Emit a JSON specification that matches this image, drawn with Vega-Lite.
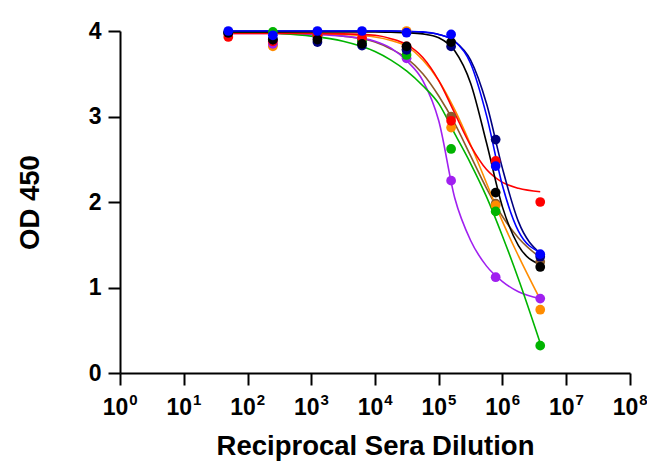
{
  "$schema": "https://vega.github.io/schema/vega-lite/v6.json",
  "width": 510,
  "height": 342,
  "autosize": {"type": "none"},
  "padding": {"left": 120, "top": 31, "right": 17, "bottom": 94},
  "background": "white",
  "config": {
    "view": {"stroke": null},
    "axis": {
      "grid": false,
      "domainColor": "black",
      "domainWidth": 2,
      "tickColor": "black",
      "tickWidth": 2,
      "tickSize": 12,
      "labelFont": "Liberation Sans",
      "labelFontWeight": "bold",
      "labelFontSize": 23,
      "labelColor": "black",
      "titleFont": "Liberation Sans",
      "titleFontWeight": "bold",
      "titleFontSize": 27.5,
      "titleColor": "black"
    }
  },
  "datasets": {
    "points": [
      {"s": "brown", "dil": 50, "od": 3.97}, {"s": "brown", "dil": 250, "od": 3.84}, {"s": "brown", "dil": 1250, "od": 3.94}, {"s": "brown", "dil": 6250, "od": 3.9}, {"s": "brown", "dil": 31250, "od": 3.78}, {"s": "brown", "dil": 156250, "od": 3.0}, {"s": "brown", "dil": 781250, "od": 1.98}, {"s": "brown", "dil": 3906250, "od": 1.3},
      {"s": "orange", "dil": 50, "od": 3.97}, {"s": "orange", "dil": 250, "od": 3.82}, {"s": "orange", "dil": 1250, "od": 3.95}, {"s": "orange", "dil": 6250, "od": 3.9}, {"s": "orange", "dil": 31250, "od": 4.0}, {"s": "orange", "dil": 156250, "od": 2.87}, {"s": "orange", "dil": 781250, "od": 1.96}, {"s": "orange", "dil": 3906250, "od": 0.74},
      {"s": "purple", "dil": 50, "od": 3.97}, {"s": "purple", "dil": 250, "od": 3.85}, {"s": "purple", "dil": 1250, "od": 3.93}, {"s": "purple", "dil": 6250, "od": 3.9}, {"s": "purple", "dil": 31250, "od": 3.68}, {"s": "purple", "dil": 156250, "od": 2.25}, {"s": "purple", "dil": 781250, "od": 1.12}, {"s": "purple", "dil": 3906250, "od": 0.87},
      {"s": "green", "dil": 50, "od": 3.98}, {"s": "green", "dil": 250, "od": 3.99}, {"s": "green", "dil": 1250, "od": 3.95}, {"s": "green", "dil": 6250, "od": 3.88}, {"s": "green", "dil": 31250, "od": 3.72}, {"s": "green", "dil": 156250, "od": 2.62}, {"s": "green", "dil": 781250, "od": 1.89}, {"s": "green", "dil": 3906250, "od": 0.32},
      {"s": "red", "dil": 50, "od": 3.93}, {"s": "red", "dil": 250, "od": 3.88}, {"s": "red", "dil": 1250, "od": 3.95}, {"s": "red", "dil": 6250, "od": 3.92}, {"s": "red", "dil": 31250, "od": 3.82}, {"s": "red", "dil": 156250, "od": 2.95}, {"s": "red", "dil": 781250, "od": 2.48}, {"s": "red", "dil": 3906250, "od": 2.0},
      {"s": "navy", "dil": 50, "od": 3.98}, {"s": "navy", "dil": 250, "od": 3.9}, {"s": "navy", "dil": 1250, "od": 3.87}, {"s": "navy", "dil": 6250, "od": 3.83}, {"s": "navy", "dil": 31250, "od": 3.78}, {"s": "navy", "dil": 156250, "od": 3.82}, {"s": "navy", "dil": 781250, "od": 2.73}, {"s": "navy", "dil": 3906250, "od": 1.36},
      {"s": "black", "dil": 50, "od": 3.98}, {"s": "black", "dil": 250, "od": 3.9}, {"s": "black", "dil": 1250, "od": 3.9}, {"s": "black", "dil": 6250, "od": 3.85}, {"s": "black", "dil": 31250, "od": 3.82}, {"s": "black", "dil": 156250, "od": 3.87}, {"s": "black", "dil": 781250, "od": 2.11}, {"s": "black", "dil": 3906250, "od": 1.24},
      {"s": "blue", "dil": 50, "od": 4.0}, {"s": "blue", "dil": 250, "od": 3.95}, {"s": "blue", "dil": 1250, "od": 4.0}, {"s": "blue", "dil": 6250, "od": 4.0}, {"s": "blue", "dil": 31250, "od": 3.98}, {"s": "blue", "dil": 156250, "od": 3.96}, {"s": "blue", "dil": 781250, "od": 2.42}, {"s": "blue", "dil": 3906250, "od": 1.39}
    ],
    "curves": [
      {"s": "brown", "dil": 50, "od": 3.98}, {"s": "brown", "dil": 316, "od": 3.975}, {"s": "brown", "dil": 1000, "od": 3.97}, {"s": "brown", "dil": 3162, "od": 3.94}, {"s": "brown", "dil": 10000, "od": 3.87}, {"s": "brown", "dil": 17783, "od": 3.79}, {"s": "brown", "dil": 31623, "od": 3.68}, {"s": "brown", "dil": 56234, "od": 3.5}, {"s": "brown", "dil": 100000, "od": 3.24}, {"s": "brown", "dil": 177828, "od": 2.92}, {"s": "brown", "dil": 316228, "od": 2.54}, {"s": "brown", "dil": 562341, "od": 2.16}, {"s": "brown", "dil": 1000000, "od": 1.83}, {"s": "brown", "dil": 1778279, "od": 1.58}, {"s": "brown", "dil": 3906250, "od": 1.35},
      {"s": "orange", "dil": 50, "od": 3.98}, {"s": "orange", "dil": 316, "od": 3.98}, {"s": "orange", "dil": 1000, "od": 3.97}, {"s": "orange", "dil": 3162, "od": 3.96}, {"s": "orange", "dil": 10000, "od": 3.93}, {"s": "orange", "dil": 17783, "od": 3.89}, {"s": "orange", "dil": 31623, "od": 3.82}, {"s": "orange", "dil": 56234, "od": 3.66}, {"s": "orange", "dil": 100000, "od": 3.42}, {"s": "orange", "dil": 177828, "od": 3.08}, {"s": "orange", "dil": 316228, "od": 2.67}, {"s": "orange", "dil": 562341, "od": 2.22}, {"s": "orange", "dil": 1000000, "od": 1.77}, {"s": "orange", "dil": 1778279, "od": 1.37}, {"s": "orange", "dil": 3906250, "od": 0.86},
      {"s": "purple", "dil": 50, "od": 3.97}, {"s": "purple", "dil": 316, "od": 3.97}, {"s": "purple", "dil": 1000, "od": 3.96}, {"s": "purple", "dil": 3162, "od": 3.94}, {"s": "purple", "dil": 10000, "od": 3.88}, {"s": "purple", "dil": 17783, "od": 3.8}, {"s": "purple", "dil": 31623, "od": 3.65}, {"s": "purple", "dil": 56234, "od": 3.42}, {"s": "purple", "dil": 100000, "od": 2.95}, {"s": "purple", "dil": 177828, "od": 2.05}, {"s": "purple", "dil": 316228, "od": 1.55}, {"s": "purple", "dil": 562341, "od": 1.25}, {"s": "purple", "dil": 1000000, "od": 1.07}, {"s": "purple", "dil": 1778279, "od": 0.95}, {"s": "purple", "dil": 3906250, "od": 0.87},
      {"s": "green", "dil": 50, "od": 3.99}, {"s": "green", "dil": 316, "od": 3.97}, {"s": "green", "dil": 1000, "od": 3.94}, {"s": "green", "dil": 3162, "od": 3.88}, {"s": "green", "dil": 10000, "od": 3.76}, {"s": "green", "dil": 17783, "od": 3.66}, {"s": "green", "dil": 31623, "od": 3.53}, {"s": "green", "dil": 56234, "od": 3.36}, {"s": "green", "dil": 100000, "od": 3.15}, {"s": "green", "dil": 177828, "od": 2.8}, {"s": "green", "dil": 316228, "od": 2.45}, {"s": "green", "dil": 562341, "od": 2.06}, {"s": "green", "dil": 1000000, "od": 1.6}, {"s": "green", "dil": 1778279, "od": 1.1}, {"s": "green", "dil": 3906250, "od": 0.35},
      {"s": "red", "dil": 50, "od": 3.97}, {"s": "red", "dil": 316, "od": 3.97}, {"s": "red", "dil": 1000, "od": 3.97}, {"s": "red", "dil": 3162, "od": 3.966}, {"s": "red", "dil": 10000, "od": 3.95}, {"s": "red", "dil": 17783, "od": 3.91}, {"s": "red", "dil": 31623, "od": 3.84}, {"s": "red", "dil": 56234, "od": 3.69}, {"s": "red", "dil": 100000, "od": 3.42}, {"s": "red", "dil": 177828, "od": 3.04}, {"s": "red", "dil": 316228, "od": 2.66}, {"s": "red", "dil": 562341, "od": 2.38}, {"s": "red", "dil": 1000000, "od": 2.23}, {"s": "red", "dil": 1778279, "od": 2.16}, {"s": "red", "dil": 3906250, "od": 2.12},
      {"s": "navy", "dil": 50, "od": 4.0}, {"s": "navy", "dil": 316, "od": 4.0}, {"s": "navy", "dil": 1000, "od": 4.0}, {"s": "navy", "dil": 3162, "od": 4.0}, {"s": "navy", "dil": 10000, "od": 4.0}, {"s": "navy", "dil": 17783, "od": 4.0}, {"s": "navy", "dil": 31623, "od": 3.995}, {"s": "navy", "dil": 56234, "od": 3.985}, {"s": "navy", "dil": 100000, "od": 3.96}, {"s": "navy", "dil": 177828, "od": 3.88}, {"s": "navy", "dil": 316228, "od": 3.66}, {"s": "navy", "dil": 562341, "od": 3.15}, {"s": "navy", "dil": 1000000, "od": 2.39}, {"s": "navy", "dil": 1778279, "od": 1.77}, {"s": "navy", "dil": 3906250, "od": 1.4},
      {"s": "black", "dil": 50, "od": 3.99}, {"s": "black", "dil": 316, "od": 3.99}, {"s": "black", "dil": 1000, "od": 3.99}, {"s": "black", "dil": 3162, "od": 3.99}, {"s": "black", "dil": 10000, "od": 3.99}, {"s": "black", "dil": 17783, "od": 3.985}, {"s": "black", "dil": 31623, "od": 3.98}, {"s": "black", "dil": 56234, "od": 3.966}, {"s": "black", "dil": 100000, "od": 3.92}, {"s": "black", "dil": 177828, "od": 3.77}, {"s": "black", "dil": 316228, "od": 3.39}, {"s": "black", "dil": 562341, "od": 2.69}, {"s": "black", "dil": 1000000, "od": 1.94}, {"s": "black", "dil": 1778279, "od": 1.49}, {"s": "black", "dil": 3906250, "od": 1.27},
      {"s": "blue", "dil": 50, "od": 4.0}, {"s": "blue", "dil": 316, "od": 4.0}, {"s": "blue", "dil": 1000, "od": 4.0}, {"s": "blue", "dil": 3162, "od": 4.0}, {"s": "blue", "dil": 10000, "od": 4.0}, {"s": "blue", "dil": 17783, "od": 4.0}, {"s": "blue", "dil": 31623, "od": 3.995}, {"s": "blue", "dil": 56234, "od": 3.99}, {"s": "blue", "dil": 100000, "od": 3.96}, {"s": "blue", "dil": 177828, "od": 3.88}, {"s": "blue", "dil": 316228, "od": 3.62}, {"s": "blue", "dil": 562341, "od": 3.01}, {"s": "blue", "dil": 1000000, "od": 2.19}, {"s": "blue", "dil": 1778279, "od": 1.66}, {"s": "blue", "dil": 3906250, "od": 1.41}
    ]
  },
  "encoding": {
    "y": {
      "field": "od",
      "type": "quantitative",
      "scale": {"domain": [0, 4], "nice": false},
      "axis": {
        "title": "OD 450",
        "values": [0, 1, 2, 3, 4],
        "labelPadding": 7,
        "titlePadding": 44
      }
    },
    "color": {
      "field": "s",
      "type": "nominal",
      "legend": null,
      "scale": {
        "domain": ["brown", "orange", "purple", "green", "red", "navy", "black", "blue"],
        "range": ["#8b5a2b", "#ff8c00", "#a020f0", "#00b400", "#ff0000", "#000080", "#000000", "#0000ff"]
      }
    }
  },
  "resolve": {"axis": {"x": "independent"}},
  "layer": [
    {
      "data": {"name": "curves"},
      "mark": {"type": "line", "strokeWidth": 1.6, "interpolate": "monotone", "clip": false},
      "encoding": {
        "x": {
          "field": "dil",
          "type": "quantitative",
          "scale": {"type": "log", "domain": [1, 100000000], "nice": false},
          "axis": {
            "orient": "bottom",
            "title": "Reciprocal Sera Dilution",
            "values": [1, 10, 100, 1000, 10000, 100000, 1000000, 10000000, 100000000],
            "labelExpr": "'10'",
            "labelOffset": -5,
            "labelFontSize": 23,
            "labelFlush": false,
            "labelOverlap": false,
            "labelPadding": 11,
            "titlePadding": 13
          }
        },
        "detail": {"field": "s"}
      }
    },
    {
      "data": {"name": "points"},
      "mark": {"type": "circle", "size": 95, "opacity": 1},
      "encoding": {
        "x": {
          "field": "dil",
          "type": "quantitative",
          "scale": {"type": "log", "domain": [1, 100000000], "nice": false},
          "axis": {
            "orient": "bottom",
            "title": null,
            "domain": false,
            "ticks": false,
            "tickSize": 0,
            "values": [1, 10, 100, 1000, 10000, 100000, 1000000, 10000000, 100000000],
            "labelExpr": "format(round(log(datum.value)/LN10), 'd')",
            "labelFontSize": 15,
            "labelOffset": 13,
            "labelFlush": false,
            "labelOverlap": false,
            "labelPadding": 19
          }
        }
      }
    }
  ]
}
